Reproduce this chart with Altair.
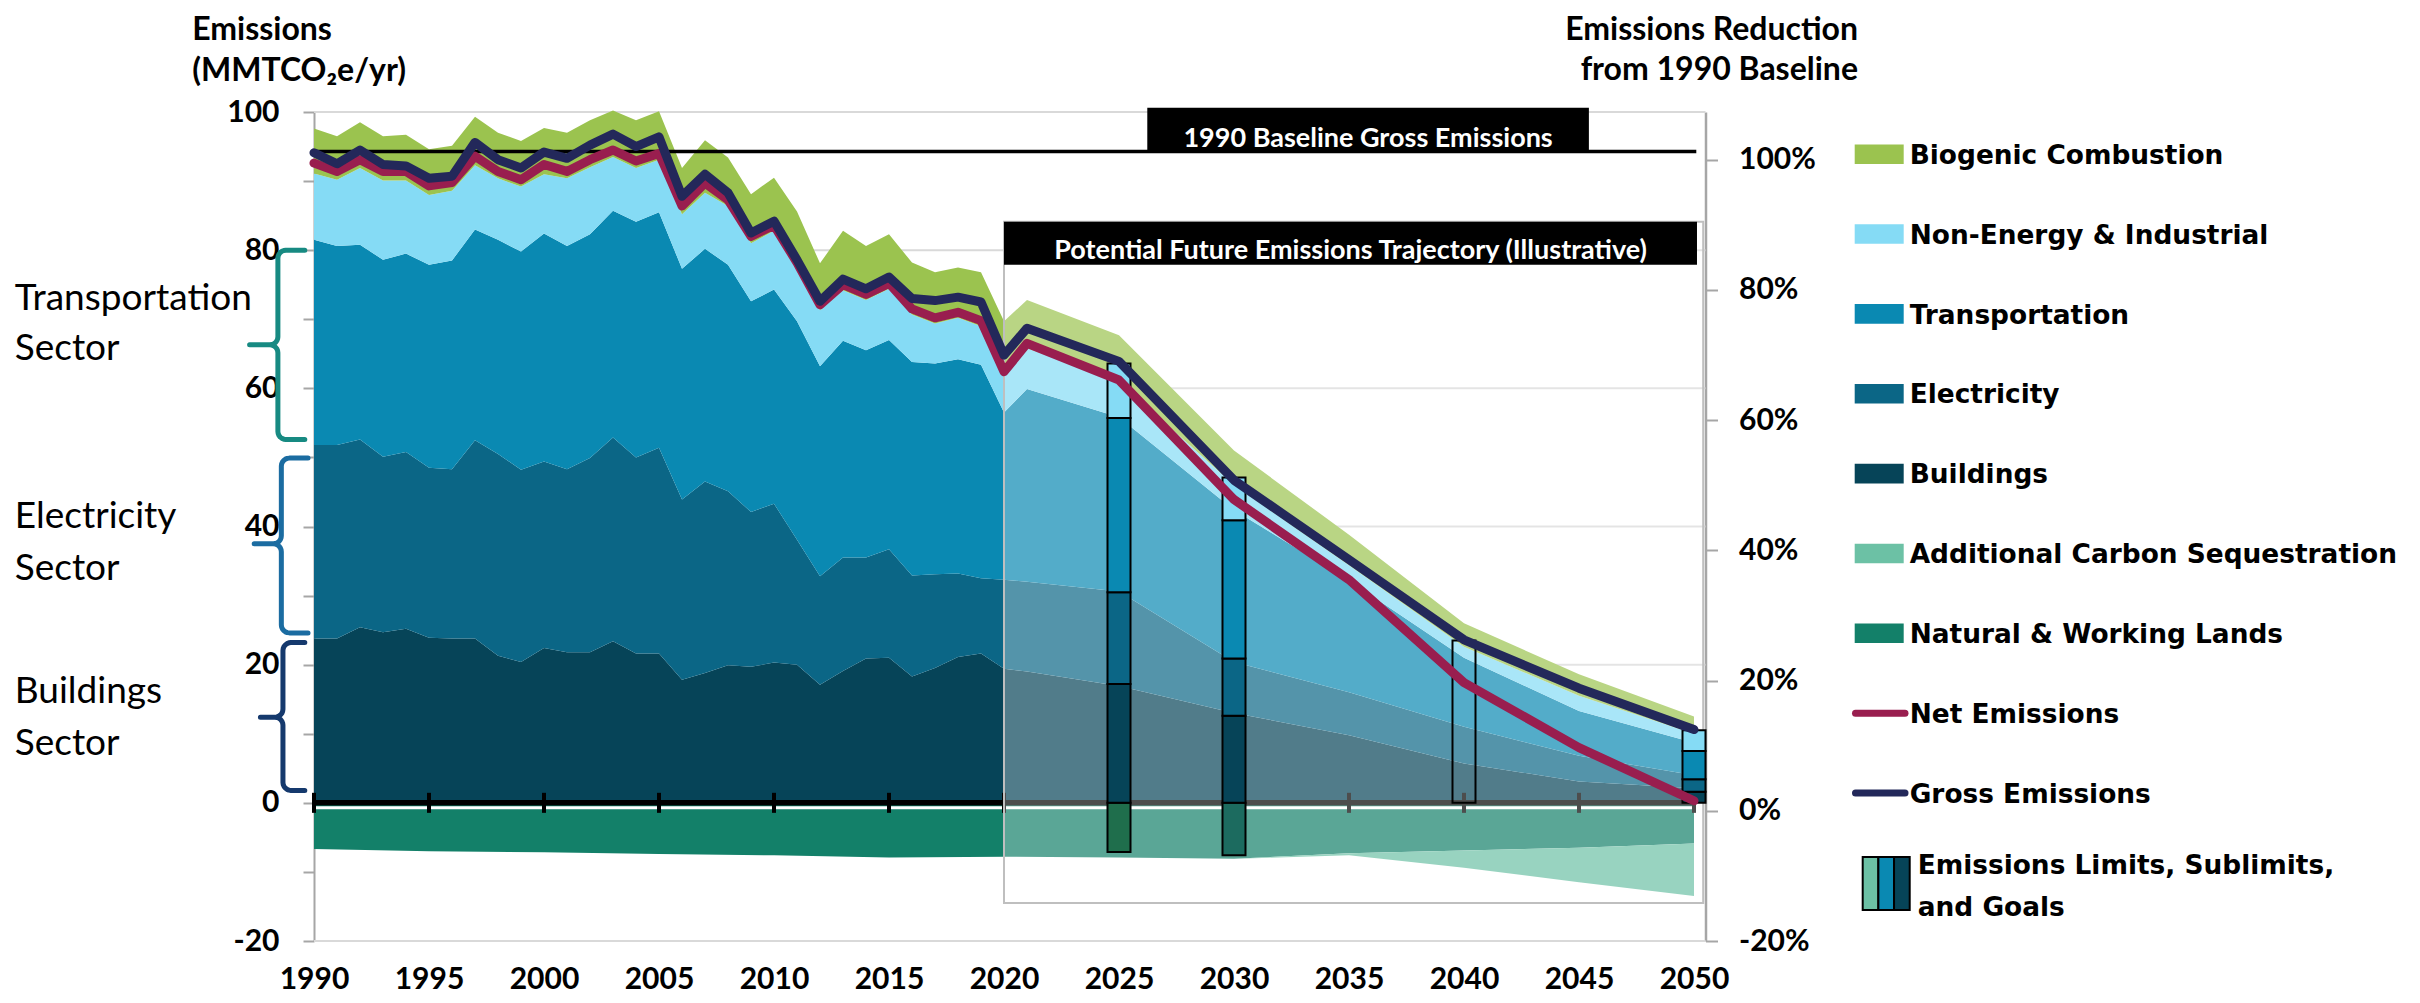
import math
import altair as alt
import pandas as pd

# ---------------------------------------------------------------- data
hist_years = list(range(1990, 2021))
future_years = [2021, 2025, 2030, 2035, 2040, 2045, 2050]

# upper boundary of each stacked band (MMTCO2e/yr)
buildings_top_hist = [23.8, 23.8, 25.4, 24.7, 25.2, 23.9, 23.8, 23.8, 21.3, 20.4,
                      22.4, 21.8, 21.8, 23.4, 21.6, 21.6, 17.8, 18.8, 19.9, 19.7,
                      20.3, 20.0, 17.1, 19.1, 20.9, 21.0, 18.3, 19.5, 21.1, 21.6, 19.4]
buildings_top_future = [19.0, 16.9, 13.0, 9.8, 5.7, 3.1, 2.1]

electricity_top_hist = [51.8, 51.8, 52.6, 50.1, 50.8, 48.5, 48.3, 52.5, 50.5, 48.2,
                        49.4, 48.3, 49.9, 52.9, 50.0, 51.4, 43.9, 46.5, 45.1, 42.1,
                        43.3, 38.1, 32.8, 35.5, 35.5, 36.7, 32.9, 33.1, 33.2, 32.5, 32.3]
electricity_top_future = [32.0, 30.6, 20.4, 16.0, 11.0, 6.8, 4.0]

transport_top_hist = [81.5, 80.6, 80.8, 78.6, 79.5, 77.9, 78.5, 83.0, 81.5, 79.8,
                      82.4, 80.6, 82.3, 85.7, 84.1, 85.5, 77.3, 80.2, 77.9, 72.6,
                      74.3, 69.7, 63.2, 66.9, 65.5, 67.0, 63.8, 63.6, 64.2, 63.4, 56.5]
transport_top_future = [59.9, 55.8, 42.4, 32.2, 21.0, 13.3, 8.7]

nonenergy_top_hist = [91.1, 90.2, 91.9, 90.1, 90.1, 88.0, 88.6, 92.3, 90.4, 89.2,
                      91.0, 90.4, 92.0, 93.5, 91.9, 93.1, 85.2, 88.3, 86.4, 81.0,
                      82.8, 77.5, 71.3, 74.2, 72.8, 74.4, 70.7, 69.4, 70.2, 69.0, 61.7]
nonenergy_top_future = [65.8, 61.0, 46.0, 34.4, 22.6, 15.5, 10.0]

biogenic_top_hist = [97.6, 96.5, 98.5, 96.5, 96.7, 94.6, 95.1, 99.3, 97.0, 95.8,
                     97.7, 97.0, 98.8, 100.2, 98.8, 100.1, 91.9, 95.9, 93.4, 88.1,
                     90.5, 85.6, 78.1, 82.8, 80.6, 82.3, 78.2, 76.8, 77.5, 76.8, 69.7]
biogenic_top_future = [72.8, 67.7, 51.0, 38.8, 26.0, 18.6, 12.5]

gross_hist = [94.1, 92.5, 94.5, 92.4, 92.2, 90.4, 90.7, 95.6, 93.1, 91.9,
              94.2, 93.3, 95.2, 96.8, 95.0, 96.4, 87.8, 91.0, 88.3, 82.5,
              84.2, 78.6, 72.6, 75.8, 74.4, 76.1, 73.0, 72.7, 73.2, 72.5, 64.8]
gross_future = [68.7, 63.9, 46.7, 35.2, 23.6, 16.6, 10.6]

net_hist = [92.6, 91.4, 93.1, 91.4, 91.4, 89.3, 89.8, 93.6, 91.4, 90.2,
            92.4, 91.4, 93.1, 94.5, 92.9, 94.0, 86.4, 89.7, 87.3, 82.0,
            83.6, 78.2, 72.1, 75.0, 73.6, 75.2, 71.5, 70.2, 71.0, 69.8, 62.4]
net_future = [66.5, 61.2, 43.9, 32.3, 17.4, 8.0, 0.3]

# sinks (negative)
nwl_years = [1990, 1995, 2000, 2005, 2010, 2015, 2020, 2025, 2030, 2035, 2040, 2045, 2050]
nwl_bottom = [-6.7, -7.0, -7.15, -7.4, -7.6, -7.9, -7.8, -7.9, -8.1, -7.3, -6.9, -6.5, -5.9]
acs_years = [2030, 2035, 2040, 2045, 2050]
acs_top = [-8.1, -7.3, -6.9, -6.5, -5.9]
acs_bottom = [-8.1, -7.6, -9.4, -11.5, -13.5]

baseline_1990 = 94.27

# emissions limits / sublimits / goals (stack levels)
limit_years = [2025, 2030, 2040, 2050]
limit_nwl = [-7.1, -7.6, None, None]
limit_buildings = [17.2, 12.6, None, 1.6]
limit_electricity = [30.5, 20.9, None, 3.4]
limit_transport = [55.7, 40.9, None, 7.5]
limit_total = [63.6, 47.1, 23.5, 10.5]

x_tick_years = list(range(1990, 2051, 5))

for arr in [buildings_top_hist, electricity_top_hist, transport_top_hist, nonenergy_top_hist,
            biogenic_top_hist, gross_hist, net_hist]:
    assert len(arr) == len(hist_years), len(arr)

# ---------------------------------------------------------------- style
C_BIO = "#9BC34F"
C_NON = "#85DBF5"
C_TRANS = "#0A89B2"
C_ELEC = "#0B6686"
C_BLD = "#064458"
C_ACS = "#6CC1A5"
C_NWL = "#138069"
C_NET = "#991E4F"
C_GROSS = "#23285A"
LIMIT_NWL_COLORS = ["#1F6E4C", "#1C6B5F"]

NUM_FONT = "Lato"
LEG_FONT = "DejaVu Sans"

XS = alt.Scale(domain=[1990, 2050.5], nice=False, zero=False)
YS = alt.Scale(domain=[-20, 100], nice=False, zero=False)
PS = alt.Scale(domain=[-20, 107.3], nice=False, zero=False)

X_AXIS = alt.Axis(values=x_tick_years, format="d", orient="bottom", domain=False, ticks=False,
                  grid=False, labelFont=NUM_FONT, labelFontSize=30, labelFontWeight="bold",
                  labelColor="black", labelPadding=23, labelFlush=False, labelOverlap=False,
                  title=None)
Y_AXIS = alt.Axis(values=list(range(-20, 101, 10)),
                  labelExpr="datum.value % 20 === 0 ? '' + datum.value : ''",
                  orient="left", domain=True, domainColor="#A6A6A6", domainWidth=2,
                  ticks=True, tickColor="#A6A6A6", tickWidth=2, tickSize=11, grid=False,
                  labelFont=NUM_FONT, labelFontSize=30, labelFontWeight="bold",
                  labelColor="black", labelPadding=24, labelFlush=False, labelOverlap=False,
                  title=None)


def xq(f):
    return alt.X(f, type="quantitative", scale=XS, axis=X_AXIS, title=None)


def yq(f):
    return alt.Y(f, type="quantitative", scale=YS, axis=Y_AXIS, title=None)


ONE = alt.Data(values=[{"a": 1}])
layers = []

# gridlines
grid_df = pd.DataFrame({"y": [-20, 20, 40, 60, 80, 100]})
grid_df["x0"] = 1990
grid_df["x1"] = 2050.5
layers.append(alt.Chart(grid_df).mark_rule(color="#D9D9D9", strokeWidth=2).encode(
    x=xq("x0"), x2="x1", y=yq("y")))

# stacked bands
years = hist_years + future_years
b_top = buildings_top_hist + buildings_top_future
e_top = electricity_top_hist + electricity_top_future
t_top = transport_top_hist + transport_top_future
n_top = nonenergy_top_hist + nonenergy_top_future
g_top = biogenic_top_hist + biogenic_top_future
bands = [
    (b_top, [0.0] * len(years), C_BLD, years),
    (e_top, b_top, C_ELEC, years),
    (t_top, e_top, C_TRANS, years),
    (n_top, t_top, C_NON, years),
    (g_top, n_top, C_BIO, years),
    ([0.0] * len(nwl_years), nwl_bottom, C_NWL, nwl_years),
    (acs_top, acs_bottom, C_ACS, acs_years),
]
for top, bot, col, xs in bands:
    df = pd.DataFrame({"year": xs, "top": top, "bot": bot})
    layers.append(alt.Chart(df).mark_area(color=col, opacity=1, interpolate="linear").encode(
        x=xq("year"), y=yq("top"), y2="bot"))

# zero axis line with ticks
zl = pd.DataFrame({"x0": [1990], "x1": [2050], "y": [0]})
layers.append(alt.Chart(zl).mark_rule(color="white", strokeWidth=3, yOffset=5).encode(
    x=xq("x0"), x2="x1", y=yq("y")))
layers.append(alt.Chart(zl).mark_rule(color="black", strokeWidth=5.5).encode(
    x=xq("x0"), x2="x1", y=yq("y")))
tk = pd.DataFrame({"x": x_tick_years})
tk["y0"] = -1.45
tk["y1"] = 1.45
layers.append(alt.Chart(tk).mark_rule(color="black", strokeWidth=4).encode(
    x=xq("x"), y=yq("y0"), y2="y1"))

# 1990 baseline
bl = pd.DataFrame({"x0": [1990], "x1": [2050.1], "y": [baseline_1990]})
layers.append(alt.Chart(bl).mark_rule(color="black", strokeWidth=3.5).encode(
    x=xq("x0"), x2="x1", y=yq("y")))

# white veil over the illustrative future trajectory
veil = pd.DataFrame({"x0": [2020], "x1": [2050.4], "y0": [-14.5], "y1": [84.1]})
layers.append(alt.Chart(veil).mark_rect(fill="white", fillOpacity=0.3, stroke="#BFBFBF",
                                        strokeWidth=2).encode(
    x=xq("x0"), x2="x1", y=yq("y0"), y2="y1"))

# black label boxes
boxes = pd.DataFrame({
    "x0": [2026.23, 2020.0], "x1": [2045.43, 2050.13],
    "y0": [baseline_1990, 77.9], "y1": [100.6, 84.1],
    "tx": [2035.83, 2035.07], "ty": [95.0, 78.7],
    "label": ["1990 Baseline Gross Emissions",
              "Potential Future Emissions Trajectory (Illustrative)"],
})
layers.append(alt.Chart(boxes).mark_rect(color="black").encode(
    x=xq("x0"), x2="x1", y=yq("y0"), y2="y1"))
layers.append(alt.Chart(boxes).mark_text(font=NUM_FONT, fontSize=27, fontWeight="bold",
                                         color="white", align="center",
                                         baseline="alphabetic").encode(
    x=xq("tx"), y=yq("ty"), text="label:N"))

# limit bars
seg_rows = []
seg_cols = [C_BLD, C_ELEC, C_TRANS, C_NON]
for i, yr in enumerate(limit_years):
    if limit_nwl[i] is not None:
        seg_rows.append(dict(x0=yr - 0.5, x1=yr + 0.5, y0=limit_nwl[i], y1=0.0,
                             fill=LIMIT_NWL_COLORS[i]))
    if limit_buildings[i] is None:
        seg_rows.append(dict(x0=yr - 0.5, x1=yr + 0.5, y0=0.0, y1=limit_total[i],
                             fill="transparent"))
        continue
    levels = [0.0, limit_buildings[i], limit_electricity[i], limit_transport[i], limit_total[i]]
    for k in range(4):
        seg_rows.append(dict(x0=yr - 0.5, x1=yr + 0.5, y0=levels[k], y1=levels[k + 1],
                             fill=seg_cols[k]))
seg_df = pd.DataFrame(seg_rows)
layers.append(alt.Chart(seg_df).mark_rect(stroke="black", strokeWidth=2).encode(
    x=xq("x0"), x2="x1", y=yq("y0"), y2="y1", color=alt.Color("fill:N", scale=None)))

# net and gross lines
for vals, col in [(net_hist + net_future, C_NET), (gross_hist + gross_future, C_GROSS)]:
    df = pd.DataFrame({"year": years, "v": vals})
    layers.append(alt.Chart(df).mark_line(color=col, strokeWidth=9, strokeCap="round",
                                          strokeJoin="round").encode(
        x=xq("year"), y=yq("v")))

# sector braces (annotation geometry in data units)
RX = 8 / 23.0
RY = 8 / 6.908


def brace(xv, xtip, xnub, top, mid, bot):
    pts = [(xtip, top)]
    for a in range(90, 181, 15):
        r = math.radians(a)
        pts.append((xv + RX + RX * math.cos(r), top - RY + RY * math.sin(r)))
    for a in range(0, -91, -15):
        r = math.radians(a)
        pts.append((xv - RX + RX * math.cos(r), mid + RY + RY * math.sin(r)))
    pts.append((xnub, mid))
    for a in range(90, -1, -15):
        r = math.radians(a)
        pts.append((xv - RX + RX * math.cos(r), mid - RY + RY * math.sin(r)))
    for a in range(180, 271, 15):
        r = math.radians(a)
        pts.append((xv + RX + RX * math.cos(r), bot + RY + RY * math.sin(r)))
    pts.append((xtip, bot))
    return pd.DataFrame({"i": range(len(pts)), "x": [p[0] for p in pts],
                         "y": [p[1] for p in pts]})


braces = [
    (brace(1988.43, 1989.6, 1987.2, 80.0, 66.3, 52.6), "#178A82"),
    (brace(1988.58, 1989.74, 1987.4, 49.9, 37.5, 24.6), "#1B6CA1"),
    (brace(1988.65, 1989.6, 1987.67, 23.2, 12.4, 1.8), "#15396D"),
]
for df, col in braces:
    layers.append(alt.Chart(df).mark_line(color=col, strokeWidth=5, strokeCap="round",
                                          strokeJoin="round").encode(
        x=xq("x"), y=yq("y"), order="i:Q"))

sector_labels = pd.DataFrame({
    "x": [1976.99] * 6,
    "y": [71.35, 64.1, 39.75, 32.27, 14.42, 6.93],
    "t": ["Transportation", "Sector", "Electricity", "Sector", "Buildings", "Sector"],
})
layers.append(alt.Chart(sector_labels).mark_text(font=NUM_FONT, fontSize=37, color="black",
                                                 align="left", baseline="alphabetic").encode(
    x=xq("x"), y=yq("y"), text="t:N"))


# titles (pixel offsets from the plot origin)
def ptext(txt, x, y, size, align="left", font=NUM_FONT, weight="bold"):
    return alt.Chart(ONE).mark_text(text=txt, font=font, fontSize=size, fontWeight=weight,
                                    color="black", align=align, baseline="alphabetic").encode(
        x=alt.value(x), y=alt.value(y))


layers.append(ptext("Emissions", -121.8, -72, 32))
layers.append(ptext("(MMTCO\u2082e/yr)", -121.8, -31, 32))
layers.append(ptext("Emissions Reduction", 1544, -72, 32, align="right"))
layers.append(ptext("from 1990 Baseline", 1544, -32, 32, align="right"))

# legend
legend_items = [("Biogenic Combustion", C_BIO), ("Non-Energy & Industrial", C_NON),
                ("Transportation", C_TRANS), ("Electricity", C_ELEC), ("Buildings", C_BLD),
                ("Additional Carbon Sequestration", C_ACS), ("Natural & Working Lands", C_NWL)]
ROW0, ROWH = 42.2, 79.85
LEG_SIZE = 26.4
for i, (lab, col) in enumerate(legend_items):
    cy = ROW0 + ROWH * i
    layers.append(alt.Chart(ONE).mark_rect(color=col).encode(
        x=alt.value(1540.7), x2=alt.value(1589.7), y=alt.value(cy - 9.8), y2=alt.value(cy + 9.8)))
    layers.append(ptext(lab, 1595.7, cy + 9.7, LEG_SIZE, font=LEG_FONT))
for j, (lab, col) in enumerate([("Net Emissions", C_NET), ("Gross Emissions", C_GROSS)]):
    cy = ROW0 + ROWH * (7 + j)
    layers.append(alt.Chart(ONE).mark_rule(color=col, strokeWidth=7, strokeCap="round").encode(
        x=alt.value(1541.5), x2=alt.value(1591), y=alt.value(cy)))
    layers.append(ptext(lab, 1595.7, cy + 9.7, LEG_SIZE, font=LEG_FONT))
for k, col in enumerate([C_ACS, C_TRANS, C_BLD]):
    layers.append(alt.Chart(ONE).mark_rect(color=col, stroke="black", strokeWidth=2).encode(
        x=alt.value(1548.7 + 15.67 * k), x2=alt.value(1548.7 + 15.67 * (k + 1)),
        y=alt.value(745), y2=alt.value(798)))
layers.append(ptext("Emissions Limits, Sublimits,", 1603.7, 762, LEG_SIZE, font=LEG_FONT))
layers.append(ptext("and Goals", 1603.7, 804, LEG_SIZE, font=LEG_FONT))

main = alt.layer(*layers)

# right-hand percentage axis
right = alt.Chart(pd.DataFrame({"p": [0]})).mark_rule(opacity=0).encode(
    y=alt.Y("p:Q", scale=PS, title=None,
            axis=alt.Axis(orient="right", values=list(range(-20, 101, 20)),
                          labelExpr="'' + datum.value + '%'", domain=True,
                          domainColor="#A6A6A6",
                          domainWidth=2.5, ticks=True, tickColor="#A6A6A6", tickWidth=2,
                          tickSize=12, grid=False, labelFont=NUM_FONT, labelFontSize=30,
                          labelFontWeight="bold", labelColor="black", labelPadding=21,
                          labelFlush=False, labelOverlap=False, title=None)))

chart = alt.layer(main, right).resolve_scale(y="independent").properties(
    width=1391.5, height=829,
    padding={"left": 306, "top": 104, "right": 706, "bottom": 54},
    autosize=alt.AutoSizeParams(type="none"),
    background="white",
).configure_view(stroke=None)

chart.save("out.html", embed_options={"renderer": "svg", "actions": False})
